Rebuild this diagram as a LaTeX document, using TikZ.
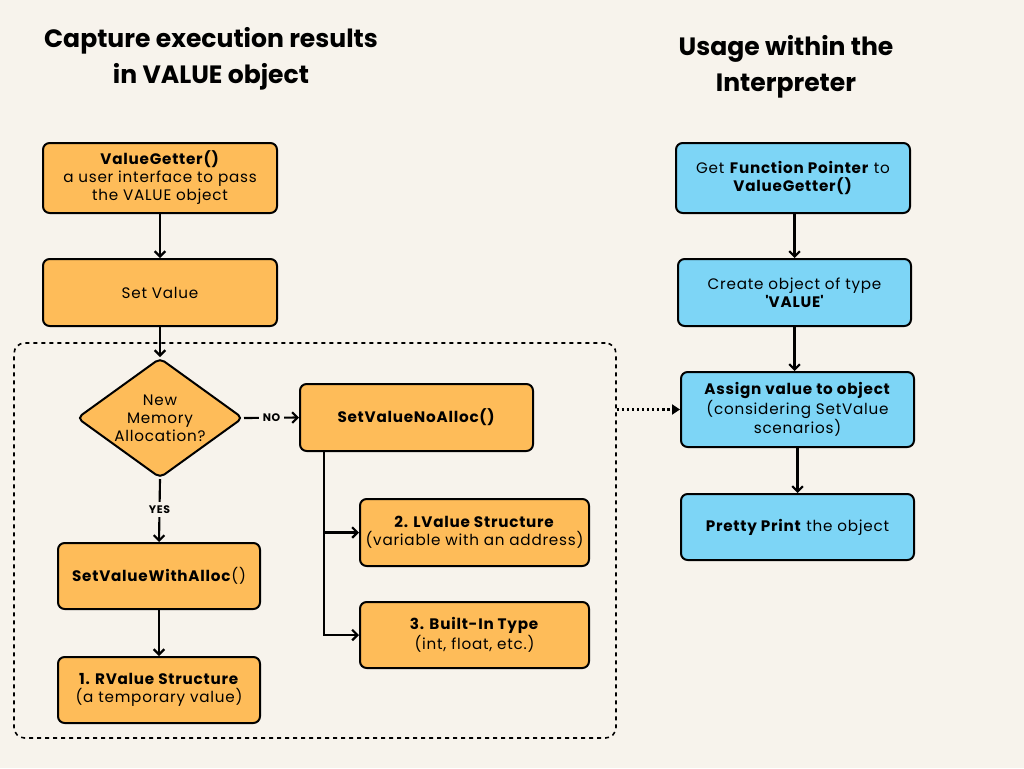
\documentclass[tikz,border=0pt]{standalone}
\usepackage{fontspec}
\setmainfont{Poppins}[LetterSpace=5]
\newfontfamily\titlefont{Poppins}[LetterSpace=0]
\usetikzlibrary{arrows.meta,shapes.geometric}
\definecolor{bgc}{HTML}{F7F3EC}
\definecolor{orng}{HTML}{FEBC59}
\definecolor{blu}{HTML}{7DD5F6}
\newdimen\upx \upx=0.75pt
\tikzset{
  box/.style={draw=black, line width=1.5pt, rounded corners=5pt, align=center, inner sep=0pt,
    font=\fontsize{11.4}{13.5}\selectfont},
  obox/.style={box, fill=orng},
  bbox/.style={box, fill=blu},
  conn/.style={line width=1.6pt, -{Straight Barb[length=4pt,width=8pt]}},
  lbl/.style={font=\bfseries\fontsize{8.2}{9}\selectfont, fill=bgc, inner sep=2.5pt},
  ttl/.style={font=\titlefont\bfseries\fontsize{18.8}{27}\selectfont, align=center},
}
\begin{document}
\begin{tikzpicture}[x=0.75pt,y=-0.75pt]
\fill[bgc] (0,0) rectangle (1024,768);
\useasboundingbox (0,0) rectangle (1024,768);

% titles
\node[ttl] (t1) at (211,59) {Capture execution results\\in VALUE object};
\node[ttl] (t2) at (786,67) {Usage within the\\Interpreter};

% group
\node[draw=black, dashed, line width=1.2pt, rounded corners=8pt, minimum width=602\upx, minimum height=395\upx] (grp) at (315,540.5) {};

% left column
\node[obox, minimum width=234\upx, minimum height=70\upx] (vg) at (160,178)
  {\textbf{ValueGetter()}\\a user interface to pass\\the VALUE object};
\node[obox, minimum width=234\upx, minimum height=67\upx] (sv) at (160,292.5) {Set Value};
\node[draw=black, fill=orng, line width=1.5pt, diamond, aspect=1.45, rounded corners=4pt, inner sep=0pt,
  minimum width=166\upx, minimum height=120\upx, align=center,
  font=\fontsize{11.4}{13.5}\selectfont] (dm) at (160,418) {New\\Memory\\Allocation?};
\node[obox, minimum width=233\upx, minimum height=67\upx] (nn) at (416.5,417.5) {\textbf{SetValueNoAlloc()}};
\node[obox, minimum width=202\upx, minimum height=66\upx] (wa) at (159,576) {\textbf{SetValueWithAlloc}()};
\node[obox, minimum width=202\upx, minimum height=66\upx] (rv) at (159,690)
  {\textbf{1. RValue Structure}\\(a temporary value)};
\node[obox, minimum width=229\upx, minimum height=67\upx] (lv) at (474.5,532.5)
  {\textbf{2. LValue Structure}\\(variable with an address)};
\node[obox, minimum width=229\upx, minimum height=66\upx] (bi) at (474.5,635)
  {\textbf{3. Built-In Type}\\(int, float, etc.)};

% right column
\node[bbox, minimum width=234\upx, minimum height=70\upx] (gf) at (793,178)
  {Get \textbf{Function Pointer} to\\\textbf{ValueGetter()}};
\node[bbox, minimum width=233\upx, minimum height=67\upx] (co) at (794.5,292.5)
  {Create object of type\\\textbf{\textquotesingle VALUE\textquotesingle}};
\node[bbox, minimum width=233\upx, minimum height=75\upx] (as) at (797.5,409.5)
  {\textbf{Assign value to object}\\(considering SetValue\\scenarios)};
\node[bbox, minimum width=233\upx, minimum height=66\upx] (pp) at (797.5,527)
  {\textbf{Pretty Print} the object};

% connectors
\draw[conn] (vg) -- (sv);
\draw[conn] (sv) -- (dm);
\draw[conn] (dm.east) -- node[lbl] (no) {NO} (nn.west);
\draw[conn] (dm.south) -- node[lbl, pos=0.48] (yes) {YES} (wa.north);
\draw[conn] (wa) -- (rv);
\coordinate (br) at ([xshift=25\upx]nn.south west);
\draw[conn] (br) |- (lv.west);
\draw[conn] (br) |- (bi.west);
\draw[conn] (gf.south -| co.north) -- (co.north);
\draw[conn] (co.south) -- (co.south |- as.north);
\draw[conn] (as) -- (pp);
\draw[line width=2.4pt, dash pattern=on 1.6pt off 2.2pt, -{Triangle[length=6pt,width=7.5pt]}]
  (grp.east |- as.west) -- (as.west);
\end{tikzpicture}
\end{document}
